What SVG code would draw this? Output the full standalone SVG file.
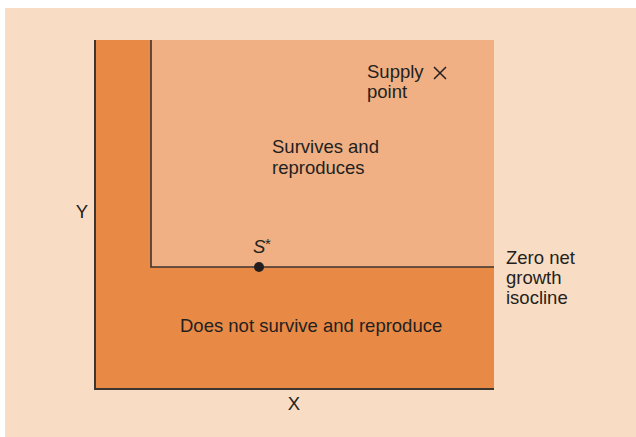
<svg xmlns="http://www.w3.org/2000/svg" width="636" height="437" viewBox="0 0 636 437">
<style>
text{font-family:"Liberation Sans",Arial,sans-serif;font-size:18.5px;fill:#231f20}
.ax{stroke:#3d3530;stroke-width:2;fill:none}
.in{stroke:#3d3530;stroke-width:1.6;fill:none}
</style>
<rect x="5" y="8" width="631" height="429" fill="#f9dcc4"/>
<g id="region-dark">
<rect x="95" y="40" width="399" height="349" fill="#e88a45"/>
</g>
<g id="region-light">
<rect x="151" y="40" width="343" height="227" fill="#f0b084"/>
<text x="272" y="153">Survives and</text>
<text x="272" y="174">reproduces</text>
</g>
<g id="region-dark-label">
<text x="180" y="332">Does not survive and reproduce</text>
</g>
<g id="connectors">
<polyline class="ax" points="95,40 95,389 494,389"/>
<polyline class="in" points="151,40 151,267 494,267"/>
</g>
<g id="s-star">
<circle cx="259" cy="267" r="5" fill="#231f20"/>
<text x="253" y="253" font-style="italic">S</text>
<text x="265" y="249" style="font-size:15px">*</text>
</g>
<g id="supply">
<text x="367" y="78">Supply</text>
<text x="367" y="98">point</text>
<path d="M434,67 L446,79 M446,67 L434,79" stroke="#231f20" stroke-width="1.5"/>
</g>
<g id="isocline-label">
<text x="506" y="264">Zero net</text>
<text x="506" y="284">growth</text>
<text x="506" y="304">isocline</text>
</g>
<g id="axis-labels">
<text x="82" y="218" text-anchor="middle">Y</text>
<text x="294" y="410" text-anchor="middle">X</text>
</g>
</svg>
